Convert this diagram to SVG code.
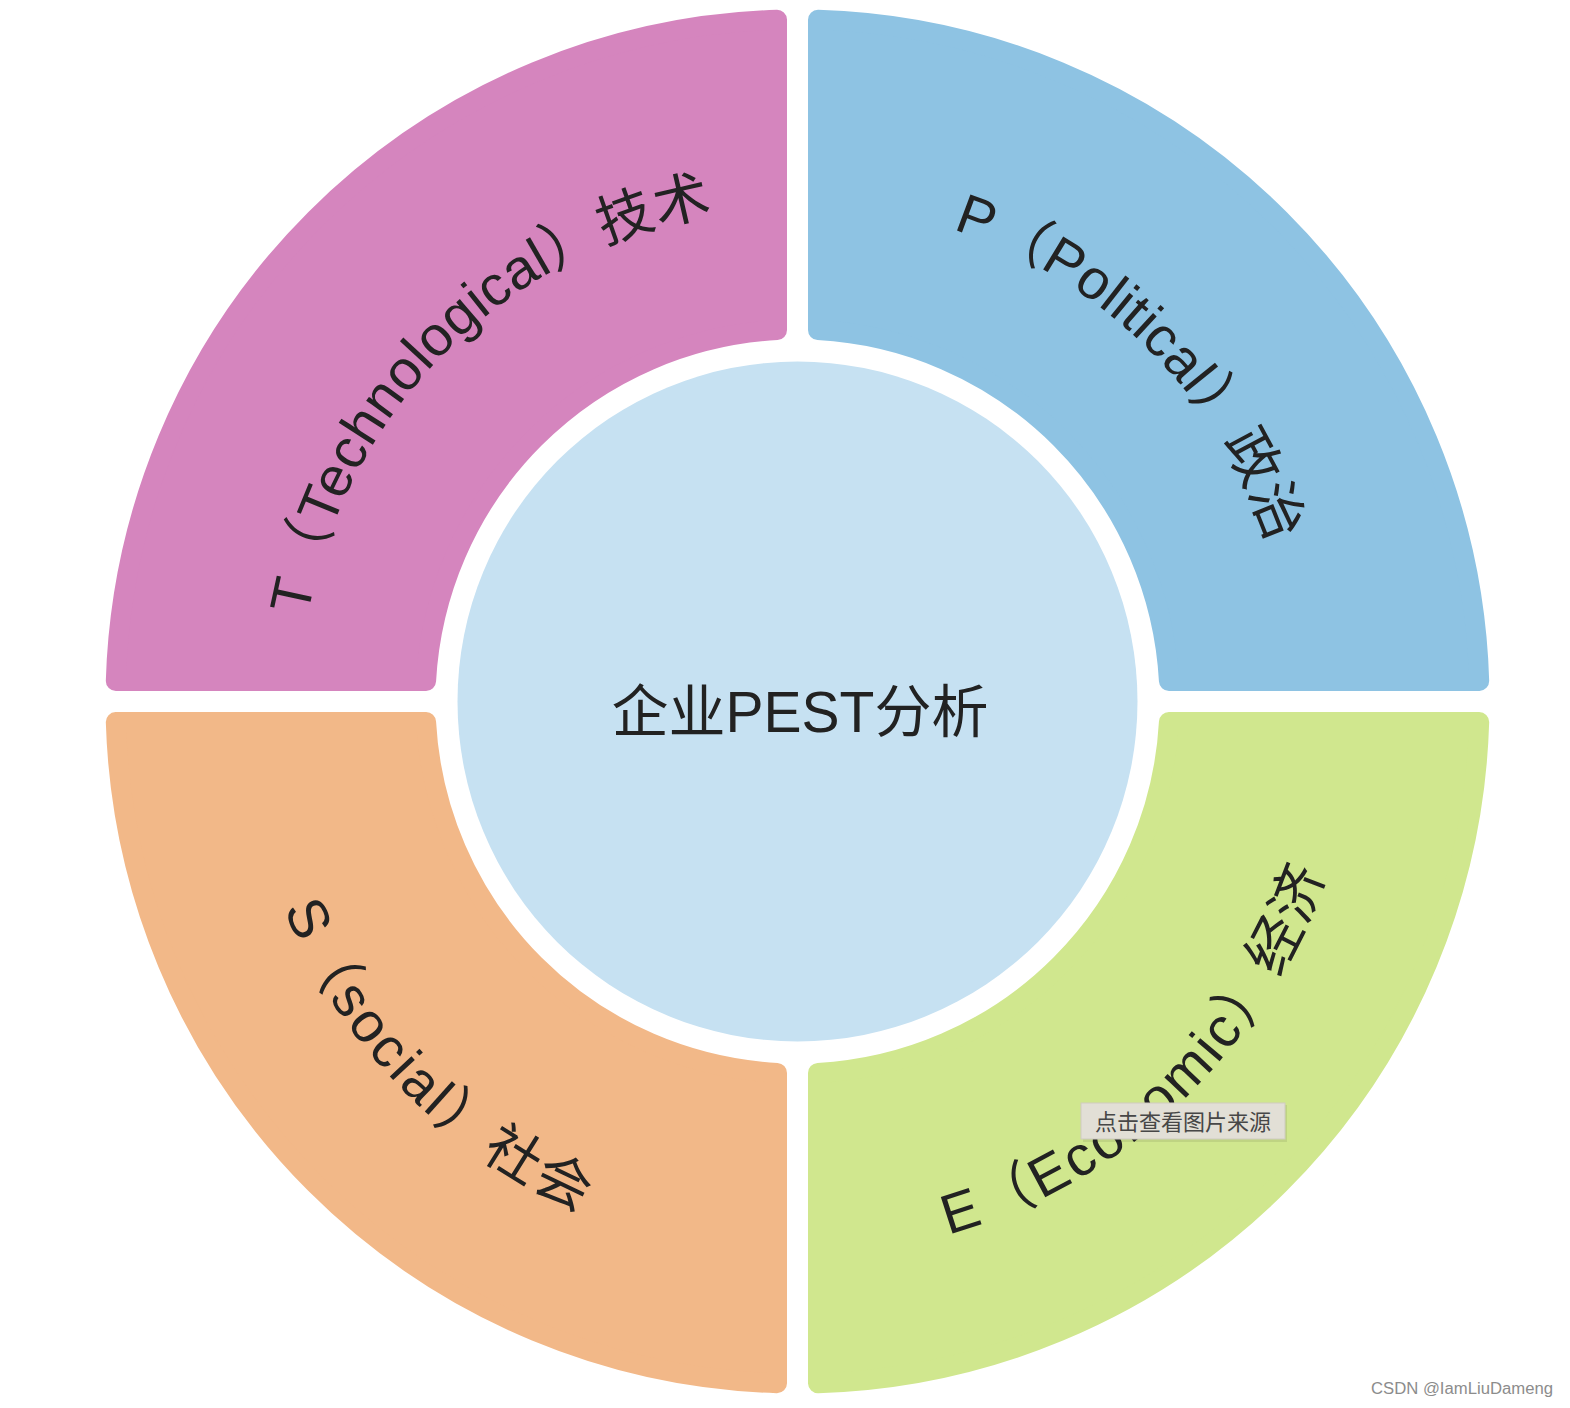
<svg xmlns="http://www.w3.org/2000/svg" width="1570" height="1408" viewBox="0 0 1570 1408">
  <style>
    .seg { stroke-width: 20; stroke-linejoin: round; }
    .lbl { font-family: "Liberation Sans", "Noto Sans CJK SC", sans-serif; font-size: 56px; fill: #222222; }
    .center { font-family: "Liberation Sans", "Noto Sans CJK SC", sans-serif; font-size: 57px; fill: #222222; }
  </style>
  <defs>
    <path id="arcT" d="M 307.9,616.05 A 497,497 0 0 1 1000,250" />
    <path id="arcP" d="M 952.7,229.4 A 497,497 0 0 1 1287.8,782.7" />
    <path id="arcS" d="M 283.8,909 A 554,554 0 0 0 797.5,1255.5" />
    <path id="arcE" d="M 948.3,1234.6 A 554,554 0 0 0 1350,650" />
  </defs>
  <rect x="0" y="0" width="1570" height="1408" fill="#ffffff" />

  <g id="node-T">
    <path class="seg" fill="#D585BE" stroke="#D585BE" d="M115.81,681 A682,682 0 0 1 777,19.81 L777,330.07 A372,372 0 0 0 426.07,681 Z" />
    <text class="lbl" letter-spacing="0.6"><textPath href="#arcT">T（Technological）技术</textPath></text>
  </g>

  <g id="node-P">
    <path class="seg" fill="#8EC3E3" stroke="#8EC3E3" d="M818,19.81 A682,682 0 0 1 1479.19,681 L1168.93,681 A372,372 0 0 0 818,330.07 Z" />
    <text class="lbl" letter-spacing="0.6"><textPath href="#arcP">P（Political）政治</textPath></text>
  </g>

  <g id="node-S">
    <path class="seg" fill="#F2B888" stroke="#F2B888" d="M777,1383.19 A682,682 0 0 1 115.81,722 L426.07,722 A372,372 0 0 0 777,1072.93 Z" />
    <text class="lbl" letter-spacing="3"><textPath href="#arcS">S（social）社会</textPath></text>
  </g>

  <g id="node-E">
    <path class="seg" fill="#D0E78E" stroke="#D0E78E" d="M1479.19,722 A682,682 0 0 1 818,1383.19 L818,1072.93 A372,372 0 0 0 1168.93,722 Z" />
    <text class="lbl" letter-spacing="3"><textPath href="#arcE">E（Economic）经济</textPath></text>
  </g>

  <g id="node-center">
    <circle cx="797.5" cy="701.5" r="340" fill="#C6E1F2" />
    <text class="center" x="800" y="732" text-anchor="middle">企业PEST分析</text>
  </g>

  <g id="connectors"></g>

  <g id="tooltip">
    <rect x="1083" y="1105" width="204" height="37" fill="#000000" opacity="0.08" />
    <rect x="1081" y="1103" width="204" height="36" fill="#E2DFD6" stroke="#CFCBC0" stroke-width="1" />
    <text x="1183" y="1130" text-anchor="middle" font-family="'Noto Sans CJK SC', sans-serif" font-size="22" fill="#474747">点击查看图片来源</text>
  </g>

  <g id="watermark">
    <text x="1371" y="1394" font-family="'Liberation Sans', sans-serif" font-size="16" fill="#8c8c8c" textLength="182" lengthAdjust="spacingAndGlyphs">CSDN @IamLiuDameng</text>
  </g>
</svg>
